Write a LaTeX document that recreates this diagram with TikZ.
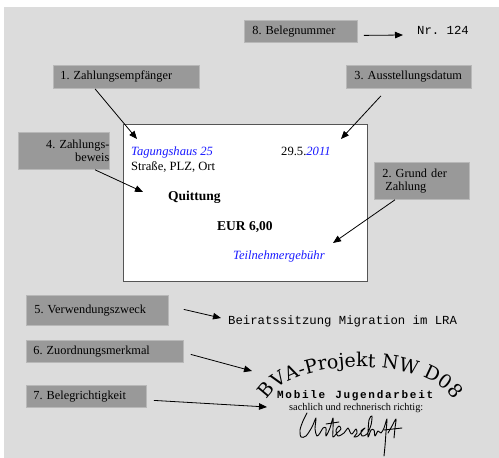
\documentclass[tikz,border=0pt]{standalone}
\usepackage{fontspec}
\setmainfont{Liberation Serif}
\newfontfamily\monofont{Liberation Mono}
\newfontfamily\stampfont{DejaVu Serif}
\usetikzlibrary{arrows.meta,decorations.text}
\definecolor{bggray}{HTML}{DCDCDC}
\definecolor{boxgray}{HTML}{999999}
\definecolor{boxedge}{HTML}{B8B8B8}
\definecolor{inkblue}{HTML}{1A1AFF}
\definecolor{recedge}{HTML}{555555}
\frenchspacing
\newcommand\tk[1]{\makebox[8.3pt][l]{#1}}
\begin{document}
\begin{tikzpicture}[x=1pt,y=-1pt,
  lbl/.style={fill=boxgray, draw=boxedge, line width=0.8pt, anchor=north west,
    font=\fontsize{12.3}{13.5}\selectfont, inner xsep=0pt, inner ysep=0pt},
  conn/.style={line width=0.8pt, -{Triangle[length=8pt,width=6.5pt]}},
  rtxt/.style={anchor=base west, inner sep=0pt, font=\fontsize{12.6}{14}\selectfont},
  rbold/.style={rtxt, font=\fontsize{13.5}{15}\selectfont\bfseries},
  rblue/.style={rtxt, font=\fontsize{12.6}{14}\selectfont\itshape, text=inkblue},
  mono/.style={anchor=base west, inner sep=0pt, font=\monofont\fontsize{12.3}{14}\selectfont},
  sig/.style={line width=0.9pt, line cap=round, line join=round}
]
\useasboundingbox (0,0) rectangle (499,458);
\fill[bggray] (4,7) rectangle (499,458);

% label boxes
\node[lbl, text width=113pt, minimum height=22pt, align=left] (b8) at (244,20) {\hspace*{8pt}8. Belegnummer};
\node[lbl, text width=146pt, minimum height=23pt, align=left] (b1) at (53,65) {\hspace*{7pt}1. Zahlungsempf\"anger};
\node[lbl, text width=125pt, minimum height=23pt, align=left] (b3) at (346,65) {\hspace*{8pt}3. Ausstellungsdatum};
\node[lbl, text width=91pt, minimum height=37pt, align=right] (b4) at (18,132) {4. Zahlungs-\hspace*{8pt}\\beweis\hspace*{8pt}};
\node[lbl, text width=95pt, minimum height=37pt, align=left] (b2) at (374,162) {\hspace*{8pt}2. Grund der\\\hspace*{11pt}Zahlung};
\node[lbl, text width=142pt, minimum height=30pt, align=left] (b5) at (26,295) {\hspace*{8pt}5. Verwendungszweck};
\node[lbl, text width=157pt, minimum height=22pt, align=left] (b6) at (26,340) {\hspace*{7pt}6. Zuordnungsmerkmal};
\node[lbl, text width=120pt, minimum height=22pt, align=left] (b7) at (26,385) {\hspace*{7pt}7. Belegrichtigkeit};

% receipt
\node[draw=recedge, fill=white, line width=1.2pt, minimum width=244pt, minimum height=157pt,
  anchor=north west, inner sep=0pt] (rc) at (123,124) {};
\node[rblue] (t1) at (131,155) {Tagungshaus 25};
\node[rtxt] (t2) at (281,155) {29.5.\textcolor{inkblue}{\itshape 2011}};
\node[rtxt] (t3) at (131,170) {Straße, PLZ, Ort};
\node[rbold] (t4) at (168,200) {Quittung};
\node[rbold] (t5) at (217,230) {EUR 6,00};
\node[rblue] (t6) at (233,259) {Teilnehmergebühr};

% outside texts
\node[mono] (nr) at (417,34.5) {Nr. 124};
\node[mono] (vz) at (228,324.5) {Beiratssitzung Migration im LRA};

% arrow tips
\coordinate (a8) at (403,35);
\coordinate (a1) at (137,139);
\coordinate (a3) at (341,139);
\coordinate (a4) at (143,192);
\coordinate (a2) at (333,243);
\coordinate (a5) at (221,318);
\coordinate (a6) at (252,371);
\coordinate (a7) at (267,407);

\draw[conn] ([xshift=6pt,yshift=-4pt]b8.east) -- (a8);
\draw[conn] ([xshift=42pt]b1.south west) -- (a1);
\draw[conn] ([xshift=35pt,yshift=-7pt]b3.south west) -- (a3);
\draw[conn] ([xshift=77pt]b4.south west) -- (a4);
\draw[conn] ([xshift=21pt]b2.south west) -- (a2);
\draw[conn] ([xshift=15pt,yshift=1pt]b5.east) -- (a5);
\draw[conn] ([xshift=7pt,yshift=-3pt]b6.east) -- (a6);
\draw[conn] ([xshift=7pt,yshift=-4pt]b7.east) -- (a7);

% stamp
\path[decorate, decoration={text along path,
  text={|\stampfont\fontsize{19}{20}\selectfont|BVA-Projekt NW D08}, text align=center}]
  (266,403) .. controls (285,355) and (435,355) .. (455,403);
\node[anchor=base west, inner sep=0pt, font=\monofont\bfseries\fontsize{11}{12}\selectfont] (mj) at (277,398)
  {\tk{M}\tk{o}\tk{b}\tk{i}\tk{l}\tk{e}\tk{ }\tk{J}\tk{u}\tk{g}\tk{e}\tk{n}\tk{d}\tk{a}\tk{r}\tk{b}\tk{e}\tk{i}\tk{t}};
\node[anchor=base west, inner sep=0pt, font=\fontsize{10.3}{11}\selectfont] (sr) at (289,410) {sachlich und rechnerisch richtig:};

% signature
\draw[sig] plot[smooth, tension=0.5] coordinates {
 (307,413) (303,421) (300,430) (301,437) (306,436) (312,427) (316,418) (315,429) (317,436)
 (320,433) (323,428) (326,428) (326,436) (330,428) (333,418) (333,429) (333,437)
 (337,433) (341,429) (339,426) (336,430) (338,436) (344,433) (348,428) (350,432)
 (352,434) (356,429) (357,433) (354,437) (358,436) (363,430) (365,428) (361,431)
 (362,436) (367,434) (371,425) (372,416) (369,420) (368,437) (371,430) (374,430)
 (375,436) (378,431) (381,433) (384,428) (387,419) (386,432) (385,446) (384,456)};
\draw[sig] plot[smooth, tension=0.5] coordinates {(388,433) (392,426) (396,419) (395,428) (394,438)};
\draw[sig] (384,430) -- (402,428);
\draw[sig] (326,424) -- (339,422);
\end{tikzpicture}
\end{document}
